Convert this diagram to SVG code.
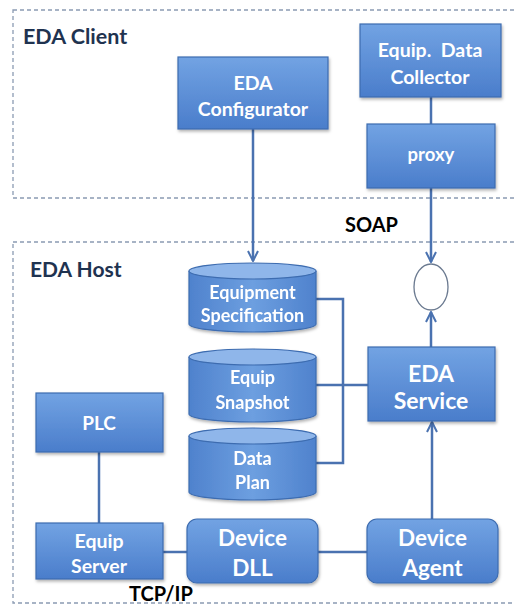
<svg xmlns="http://www.w3.org/2000/svg" width="514" height="608" viewBox="0 0 514 608">
<defs>
<linearGradient id="bg" x1="0" y1="0" x2="0" y2="1">
<stop offset="0" stop-color="#72a3e3"/>
<stop offset="1" stop-color="#4a7dcb"/>
</linearGradient>
<linearGradient id="cyl" x1="0" y1="0" x2="1" y2="0">
<stop offset="0" stop-color="#4f82cd"/>
<stop offset="0.5" stop-color="#6d9fe0"/>
<stop offset="1" stop-color="#4f82cd"/>
</linearGradient>
<filter id="sh" x="-10%" y="-10%" width="130%" height="140%">
<feDropShadow dx="1" dy="2" stdDeviation="1.5" flood-color="#000" flood-opacity="0.3"/>
</filter>
<marker id="arr" viewBox="0 0 12 12" refX="11" refY="6" markerWidth="12" markerHeight="12" markerUnits="userSpaceOnUse" orient="auto">
<path d="M1,1 L11,6 L1,11" fill="none" stroke="#4a72b0" stroke-width="2"/>
</marker>
</defs>
<style>
.zone{fill:none;stroke:#8b9bb3;stroke-width:1.3;stroke-dasharray:4 3}
.zl{font-family:Lato,"Open Sans","Liberation Sans",sans-serif;font-weight:bold;fill:#1f3350}
.box{fill:url(#bg);stroke:#3d6cb0;stroke-width:1.2;filter:url(#sh)}
.cb{fill:url(#cyl);stroke:#3d6cb0;stroke-width:1.2}
.ct{fill:#8fb6ea;stroke:#3d6cb0;stroke-width:1.2}
.t{font-family:Lato,"Open Sans","Liberation Sans",sans-serif;font-weight:bold;fill:#ffffff;text-anchor:middle;dominant-baseline:central}
.ln{fill:none;stroke:#4a72b0;stroke-width:2.5}
.lbl{font-family:Lato,"Open Sans","Liberation Sans",sans-serif;font-weight:bold;fill:#000;font-size:20px}
</style>
<rect x="0" y="0" width="514" height="608" fill="#ffffff"/>
<g id="zones">
<rect class="zone" x="13" y="10" width="510" height="188"/>
<text class="zl" x="23" y="44" font-size="21.5">EDA Client</text>
<rect class="zone" x="13" y="242" width="510" height="361"/>
<text class="zl" x="30" y="277" font-size="21">EDA Host</text>
</g>
<g id="connectors">
<path class="ln" d="M253,129 V261" marker-end="url(#arr)"/>
<path class="ln" d="M431,97 V124"/>
<path class="ln" d="M431,188 V262" marker-end="url(#arr)"/>
<path class="ln" d="M431,347 V312" marker-end="url(#arr)"/>
<path class="ln" d="M432,519 V422" marker-end="url(#arr)"/>
<path class="ln" d="M316,299 H343 V463 H316"/>
<path class="ln" d="M316,385 H368"/>
<path class="ln" d="M99,452 V523"/>
<path class="ln" d="M163,552 H187"/>
<path class="ln" d="M318,552 H367"/>
</g>
<g id="configurator">
<rect class="box" x="178" y="57" width="150" height="72"/>
<text class="t" x="253" y="82" font-size="19.5">EDA</text>
<text class="t" x="253" y="108" font-size="19.5">Configurator</text>
</g>
<g id="collector">
<rect class="box" x="360" y="24" width="141" height="73"/>
<text class="t" x="430" y="49" font-size="19.5" xml:space="preserve">Equip.  Data</text>
<text class="t" x="430" y="76" font-size="19.5">Collector</text>
</g>
<g id="proxy">
<rect class="box" x="367" y="124" width="128" height="64"/>
<text class="t" x="431" y="154" font-size="18.5">proxy</text>
</g>
<g id="interface">
<ellipse cx="431" cy="287" rx="17" ry="23" fill="#ffffff" stroke="#6b7a90" stroke-width="1.3"/>
</g>
<g id="spec" filter="url(#sh)">
<path class="cb" d="M189,271 V324 A63.5,8 0 0 0 316,324 V271"/>
<ellipse class="ct" cx="252.5" cy="271" rx="63.5" ry="8"/>
<text class="t" x="252.5" y="292" font-size="18">Equipment</text>
<text class="t" x="252.5" y="315" font-size="18">Specification</text>
</g>
<g id="snapshot" filter="url(#sh)">
<path class="cb" d="M189,357 V414 A63.5,8 0 0 0 316,414 V357"/>
<ellipse class="ct" cx="252.5" cy="357" rx="63.5" ry="8"/>
<text class="t" x="252.5" y="377" font-size="18">Equip</text>
<text class="t" x="252.5" y="402" font-size="18">Snapshot</text>
</g>
<g id="dataplan" filter="url(#sh)">
<path class="cb" d="M189,436 V492 A63.5,8 0 0 0 316,492 V436"/>
<ellipse class="ct" cx="252.5" cy="436" rx="63.5" ry="8"/>
<text class="t" x="252.5" y="458" font-size="18">Data</text>
<text class="t" x="252.5" y="482" font-size="18">Plan</text>
</g>
<g id="service">
<rect class="box" x="368" y="347" width="127" height="74"/>
<text class="t" x="431" y="373" font-size="23">EDA</text>
<text class="t" x="431" y="400" font-size="23">Service</text>
</g>
<g id="plc">
<rect class="box" x="36" y="393" width="127" height="59"/>
<text class="t" x="99" y="422" font-size="19">PLC</text>
</g>
<g id="equipserver">
<rect class="box" x="36" y="523" width="127" height="56"/>
<text class="t" x="99" y="540" font-size="19.5">Equip</text>
<text class="t" x="99" y="565" font-size="19.5">Server</text>
</g>
<g id="devicedll">
<rect class="box" x="187" y="519" width="131" height="64" rx="10"/>
<text class="t" x="252.5" y="537" font-size="22.5">Device</text>
<text class="t" x="252.5" y="567" font-size="22.5">DLL</text>
</g>
<g id="deviceagent">
<rect class="box" x="367" y="519" width="131" height="64" rx="10"/>
<text class="t" x="432.5" y="537" font-size="22.5">Device</text>
<text class="t" x="432.5" y="567" font-size="22.5">Agent</text>
</g>
<g id="labels">
<text class="lbl" x="345" y="232">SOAP</text>
<text class="lbl" x="129" y="601">TCP/IP</text>
</g>
</svg>
